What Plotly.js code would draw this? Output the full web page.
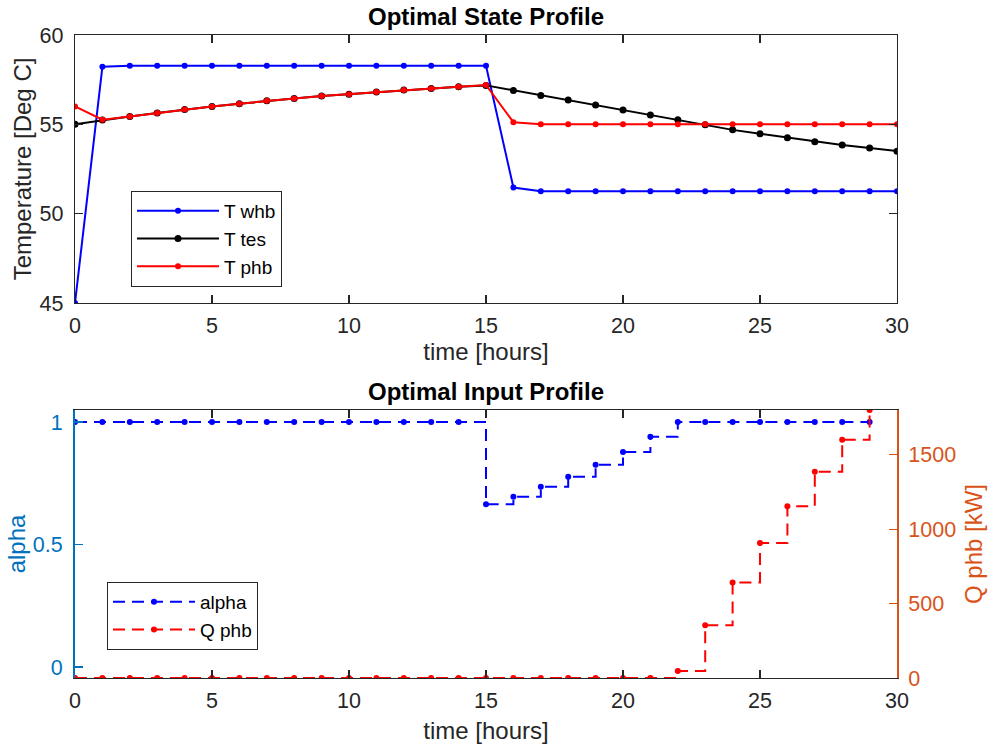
<!DOCTYPE html>
<html>
<head>
<meta charset="utf-8">
<script src="https://cdn.plot.ly/plotly-3.0.1.min.js"></script>
<style>html,body{margin:0;padding:0;background:#fff}#chart{width:990px;height:750px}</style>
</head>
<body>
<div id="chart"></div>
<script>
// ---- data ----
const stateTime = [0,1,2,3,4,5,6,7,8,9,10,11,12,13,14,15,16,17,18,19,20,21,22,23,24,25,26,27,28,29,30];
const Twhb = [45.0,58.22,58.28,58.28,58.28,58.28,58.28,58.28,58.28,58.28,58.28,58.28,58.28,58.28,58.28,58.28,51.46,51.26,51.26,51.26,51.26,51.26,51.26,51.26,51.26,51.26,51.26,51.26,51.26,51.26,51.26];
const Ttes = [55.0,55.24,55.44,55.63,55.83,56.0,56.15,56.32,56.45,56.58,56.69,56.81,56.92,57.01,57.10,57.18,56.9,56.62,56.36,56.08,55.80,55.52,55.26,54.97,54.69,54.47,54.25,54.02,53.84,53.67,53.50];
const Tphb = [56.0,55.26,55.44,55.63,55.83,56.0,56.15,56.32,56.45,56.58,56.69,56.81,56.92,57.01,57.10,57.20,55.12,55.0,55.0,55.0,55.0,55.0,55.0,55.0,55.0,55.0,55.0,55.0,55.0,55.0,55.0];

const inputTime = [0,1,2,3,4,5,6,7,8,9,10,11,12,13,14,15,16,17,18,19,20,21,22,23,24,25,26,27,28,29];
const alpha = [1,1,1,1,1,1,1,1,1,1,1,1,1,1,1,0.664,0.695,0.736,0.777,0.826,0.878,0.94,1,1,1,1,1,1,1,1];
const Qphb = [0,0,0,0,0,0,0,0,0,0,0,0,0,0,0,0,0,0,0,0,0,0,47,354,642,906,1154,1385,1600,1800];

const stateNames = ['T whb','T tes','T phb'];
const inputNames = ['alpha','Q phb'];
const titles = ['Optimal State Profile','Optimal Input Profile'];

// ---- style ----
const FONT = 'Liberation Sans, Arial, Helvetica, sans-serif';
const AX = '#262626';
const BLUE = '#0000ff', RED = '#ff0000', BLACK = '#000000';
const C_LEFT = '#0072BD', C_RIGHT = '#D95319';
const FS = 21.5, LS = 24, TS = 24, LGS = 19;

const traces = [
  {x: stateTime, y: Twhb, name: stateNames[0], mode:'lines+markers', line:{color:BLUE,width:2}, marker:{color:BLUE,size:6}, xaxis:'x', yaxis:'y', legend:'legend'},
  {x: stateTime, y: Ttes, name: stateNames[1], mode:'lines+markers', line:{color:BLACK,width:2}, marker:{color:BLACK,size:7}, xaxis:'x', yaxis:'y', legend:'legend'},
  {x: stateTime, y: Tphb, name: stateNames[2], mode:'lines+markers', line:{color:RED,width:2}, marker:{color:RED,size:6}, xaxis:'x', yaxis:'y', legend:'legend'},
  {x: inputTime, y: alpha, name: inputNames[0], mode:'lines+markers', line:{color:BLUE,width:2,shape:'hv',dash:'12px,7px'}, marker:{color:BLUE,size:6}, xaxis:'x2', yaxis:'y2', legend:'legend2'},
  {x: inputTime, y: Qphb, name: inputNames[1], mode:'lines+markers', line:{color:RED,width:2,shape:'hv',dash:'12px,7px'}, marker:{color:RED,size:6}, xaxis:'x2', yaxis:'y3', legend:'legend2'}
];

const xd = [75/990, 897/990];
const baseX = {
  range:[0,30], dtick:5, ticks:'inside', ticklen:8, tickwidth:1.2, tickcolor:AX,
  showline:true, linecolor:AX, linewidth:1.2, mirror:'ticks', showgrid:false, zeroline:false,
  tickfont:{family:FONT,size:FS,color:AX}, domain:xd, ticklabelstandoff:3
};
const layout = {
  width:990, height:750, margin:{l:0,r:0,t:0,b:0},
  paper_bgcolor:'#fff', plot_bgcolor:'#fff', showlegend:true,
  font:{family:FONT,color:AX},
  xaxis: Object.assign({}, baseX, {anchor:'y', title:{text:'time [hours]', font:{family:FONT,size:LS,color:AX}, standoff:6}}),
  yaxis: {domain:[(750-303)/750,(750-35)/750], anchor:'x', range:[45,60], dtick:5, ticks:'inside', ticklen:8, tickwidth:1.2, tickcolor:AX,
    showline:true, linecolor:AX, linewidth:1.2, mirror:'ticks', showgrid:false, zeroline:false, ticklabelstandoff:6,
    tickfont:{family:FONT,size:FS,color:AX}, title:{text:'Temperature [Deg C]', font:{family:FONT,size:LS,color:AX}, standoff:1}},
  xaxis2: Object.assign({}, baseX, {anchor:'y2', title:{text:'time [hours]', font:{family:FONT,size:LS,color:AX}, standoff:10}}),
  yaxis2: {domain:[(750-678)/750,(750-410)/750], anchor:'x2', range:[-0.045,1.049], tickvals:[0,0.5,1], ticktext:['0','0.5','1'],
    ticks:'inside', ticklen:8, tickwidth:1.2, tickcolor:C_LEFT, showline:true, linecolor:C_LEFT, linewidth:2,
    showgrid:false, zeroline:false, tickfont:{family:FONT,size:FS,color:C_LEFT}, ticklabelstandoff:6,
    title:{text:'alpha', font:{family:FONT,size:LS,color:C_LEFT}, standoff:0}},
  yaxis3: {overlaying:'y2', side:'right', anchor:'x2', range:[0,1800], tickvals:[0,500,1000,1500],
    ticks:'inside', ticklen:8, tickwidth:1.2, tickcolor:C_RIGHT, showline:true, linecolor:C_RIGHT, linewidth:2,
    showgrid:false, zeroline:false, tickfont:{family:FONT,size:FS,color:C_RIGHT}, ticklabelstandoff:5,
    title:{text:'Q phb [kW]', font:{family:FONT,size:LS,color:C_RIGHT}, standoff:10}},
  legend: {x:131/990, y:(750-191)/750, xanchor:'left', yanchor:'top', bgcolor:'#fff', bordercolor:AX, borderwidth:1,
    font:{family:FONT,size:LGS,color:'#000'}, itemwidth:82, tracegroupgap:0},
  legend2: {x:107/990, y:(750-582)/750, xanchor:'left', yanchor:'top', bgcolor:'#fff', bordercolor:AX, borderwidth:1,
    font:{family:FONT,size:LGS,color:'#000'}, itemwidth:82, tracegroupgap:0},
  annotations: [
    {text:'<b>'+titles[0]+'</b>', xref:'paper', yref:'paper', x:486/990, y:(750-17)/750, xanchor:'center', yanchor:'middle', showarrow:false, font:{family:FONT,size:TS,color:'#000'}},
    {text:'<b>'+titles[1]+'</b>', xref:'paper', yref:'paper', x:486/990, y:(750-391)/750, xanchor:'center', yanchor:'middle', showarrow:false, font:{family:FONT,size:TS,color:'#000'}}
  ]
};
Plotly.newPlot('chart', traces, layout, {displayModeBar:false, staticPlot:true});
</script>
</body>
</html>
